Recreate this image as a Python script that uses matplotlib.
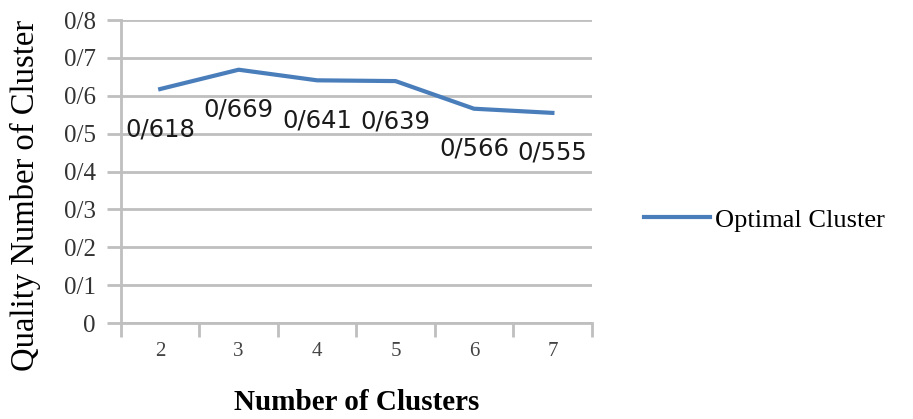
import matplotlib
matplotlib.use('Agg')
import matplotlib.pyplot as plt

# chart data
clusters = ['2', '3', '4', '5', '6', '7']
quality = [0.618, 0.669, 0.641, 0.639, 0.566, 0.555]
y_ticks = [0.0, 0.1, 0.2, 0.3, 0.4, 0.5, 0.6, 0.7, 0.8]
series_name = 'Optimal Cluster'

serif = ['Liberation Serif', 'DejaVu Serif']

fig = plt.figure(figsize=(9.13, 4.19), dpi=100)
ax = fig.add_axes([0.1325, 0.229, 0.5155, 0.723])

pos = list(range(len(clusters)))
line, = ax.plot(pos, quality, color='#4A7EBB', lw=3, label=series_name)

# data labels below the points, decimal point shown as '/'
for p, v in zip(pos, quality):
    txt = f'{v:.3f}'.replace('.', '/')
    ax.annotate(txt, (p, v), xytext=(0, -40), textcoords='offset pixels',
                ha='center', va='center', fontsize=17.5, family='DejaVu Sans',
                color='#1a1a1a')

# y axis
ax.set_ylim(0, 0.8)
ax.set_yticks(y_ticks)
ax.set_yticklabels(['0' if t == 0 else f'{t:.1f}'.replace('.', '/') for t in y_ticks],
                   family=serif, fontsize=18, color='#333333')
ax.yaxis.grid(True, color='#BFBFBF', lw=2)
ax.tick_params(axis='y', length=10, width=2, color='#BFBFBF', pad=8)

# x axis: tick marks between categories, labels at centres
ax.set_xlim(-0.5, len(clusters) - 0.5)
ax.set_xticks([p - 0.5 for p in pos] + [len(clusters) - 0.5])
ax.set_xticklabels([])
ax.set_xticks(pos, minor=True)
ax.set_xticklabels(clusters, minor=True, family=serif, fontsize=15, color='#444444')
ax.tick_params(axis='x', which='major', length=10, width=2, color='#BFBFBF', direction='out')
ax.tick_params(axis='x', which='minor', length=0, pad=14)

for s in ['top', 'right']:
    ax.spines[s].set_visible(False)
for s in ['left', 'bottom']:
    ax.spines[s].set_color('#BFBFBF')
    ax.spines[s].set_linewidth(2)
ax.set_axisbelow(True)

ax.set_xlabel('Number of Clusters', family=serif, fontsize=21, fontweight='bold', labelpad=20)
ax.set_ylabel('Quality Number of Cluster', family=serif, fontsize=23.5, va='center')
ax.yaxis.set_label_coords(-0.202, 0.42)

fig.legend(handles=[line], loc='center left', bbox_to_anchor=(0.685, 0.475),
           frameon=False, prop={'family': serif, 'size': 19},
           handlelength=2.5, handletextpad=0.2, borderaxespad=0.3)

fig.savefig('out.png', dpi=100)
